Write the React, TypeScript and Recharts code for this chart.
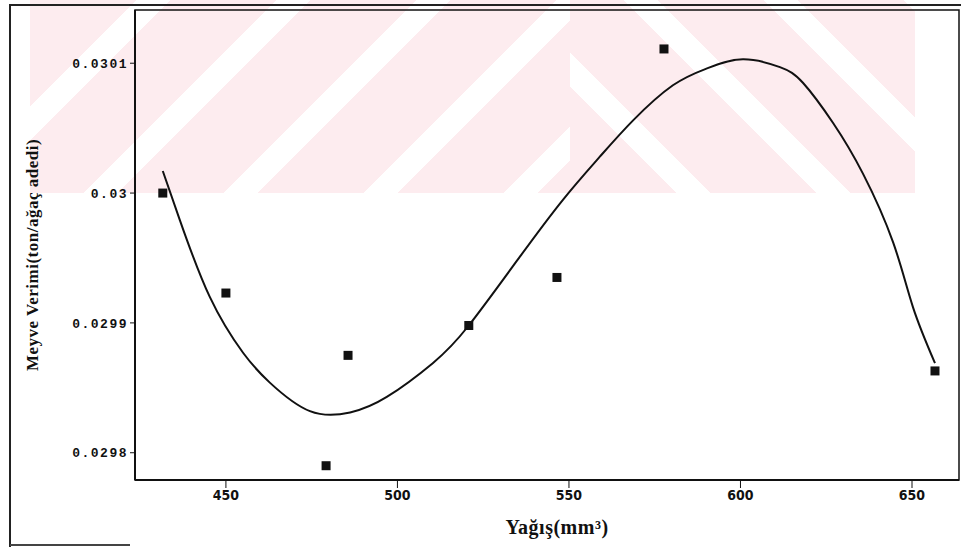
import {
  ComposedChart,
  Line,
  Scatter,
  XAxis,
  YAxis,
  ReferenceArea,
} from "recharts";

// measured points (Yağış, verim)
const rainfall = [431.6, 450, 479.2, 485.6, 520.8, 546.5, 577.7, 656.7];
const yieldValues = [0.03, 0.029923, 0.02979, 0.029875, 0.029898, 0.029935, 0.030111, 0.029863];

// fitted curve
const curveX = [
  431.6, 436.6, 445.3, 455.0, 462.8, 474.5, 486.2, 496.9, 510.3, 520.8, 535.7,
  548.3, 559.0, 568.7, 580.3, 590.2, 600.7, 611.5, 618.2, 627.0, 635.7, 644.5,
  650.3, 656.7,
];
const curveY = [
  0.030017, 0.029979, 0.02992, 0.029877, 0.029854, 0.029832, 0.029831,
  0.029843, 0.029869, 0.029898, 0.029951, 0.029995, 0.030028, 0.030056,
  0.030083, 0.030096, 0.030103, 0.030097, 0.030085, 0.030054, 0.030015,
  0.029962, 0.029912, 0.029869,
];

const xTicks = [450, 500, 550, 600, 650];
const yTicks = [0.0298, 0.0299, 0.03, 0.0301];
const yTickLabels = ["0.0298", "0.0299", "0.03", "0.0301"];

const xDomain: [number, number] = [423.5, 663.7];
const yDomain: [number, number] = [0.029779, 0.030141];

const points = rainfall.map((x, i) => ({ x, y: yieldValues[i] }));
const curve = curveX.map((x, i) => ({ x, y: curveY[i] }));

const pink = "#fdecef";

const SquareDot = (props: any) => {
  const { cx, cy } = props;
  if (cx == null || cy == null) return null;
  return <rect x={cx - 4.5} y={cy - 4.5} width={9} height={9} fill="#111" />;
};

export default function App() {
  return (
    <div
      style={{
        position: "absolute",
        left: 0,
        top: 0,
        width: 961,
        height: 547,
        background: "#fff",
        overflow: "hidden",
      }}
    >
      {/* watermark band */}
      <div
        style={{
          position: "absolute",
          left: 30,
          top: 0,
          width: 540,
          height: 193,
          background: `repeating-linear-gradient(135deg, ${pink} 0px, ${pink} 75px, #ffffff 75px, #ffffff 99px)`,
        }}
      />
      <div
        style={{
          position: "absolute",
          left: 570,
          top: 0,
          width: 345,
          height: 193,
          background: `repeating-linear-gradient(45deg, ${pink} 0px, ${pink} 75px, #ffffff 75px, #ffffff 99px)`,
        }}
      />
      {/* scanned page border */}
      <div
        style={{
          position: "absolute",
          left: 9,
          top: 4,
          width: 960,
          height: 560,
          borderLeft: "2px solid #222",
          borderTop: "2px solid #222",
        }}
      />
      <div
        style={{
          position: "absolute",
          left: 10,
          top: 544,
          width: 120,
          height: 0,
          borderTop: "2px solid #444",
        }}
      />
      <div style={{ position: "absolute", left: 0, top: 0 }}>
        <ComposedChart
          width={961}
          height={547}
          margin={{ top: 10, right: 2, bottom: 7, left: 0 }}
        >
          <XAxis
            type="number"
            dataKey="x"
            domain={xDomain}
            ticks={xTicks}
            allowDataOverflow
            height={60}
            axisLine={{ stroke: "#111", strokeWidth: 2 }}
            tickLine={{ stroke: "#111" }}
            tickSize={8}
            tickMargin={2}
            tick={{
              fill: "#111",
              fontSize: 14,
              fontWeight: "bold",
              fontFamily: "DejaVu Sans Condensed, DejaVu Sans",
            }}
            label={() => (
              <text
                x={557}
                y={534}
                textAnchor="middle"
                fill="#111"
                fontFamily="Liberation Serif"
                fontWeight="bold"
                fontSize={20}
                letterSpacing={0.5}
              >
                Yağış(mm³)
              </text>
            )}
          />
          <YAxis
            type="number"
            dataKey="y"
            domain={yDomain}
            ticks={yTicks}
            allowDataOverflow
            width={135}
            axisLine={{ stroke: "#111", strokeWidth: 2 }}
            tickLine={{ stroke: "#111" }}
            tickSize={5}
            tickMargin={2}
            tickFormatter={(v: number) => {
              const i = yTicks.indexOf(v);
              return i >= 0 ? yTickLabels[i] : String(v);
            }}
            tick={{
              fill: "#111",
              fontSize: 13,
              fontWeight: "bold",
              fontFamily: "Liberation Mono",
              letterSpacing: 1.5,
            }}
            label={() => (
              <text
                x={38}
                y={255}
                transform="rotate(-90 38 255)"
                textAnchor="middle"
                fill="#111"
                fontFamily="Liberation Serif"
                fontWeight="bold"
                fontSize={17}
                letterSpacing={0.5}
              >
                Meyve Verimi(ton/ağaç adedi)
              </text>
            )}
          />
          <ReferenceArea
            x1={xDomain[0]}
            x2={xDomain[1]}
            y1={yDomain[0]}
            y2={yDomain[1]}
            fill="none"
            stroke="#111"
            strokeWidth={1.5}
            ifOverflow="visible"
          />
          <Line
            data={curve}
            dataKey="y"
            type="natural"
            stroke="#111"
            strokeWidth={2}
            dot={false}
            activeDot={false}
            isAnimationActive={false}
          />
          <Scatter
            data={points}
            dataKey="y"
            fill="#111"
            shape={SquareDot}
            isAnimationActive={false}
          />
        </ComposedChart>
      </div>
    </div>
  );
}
